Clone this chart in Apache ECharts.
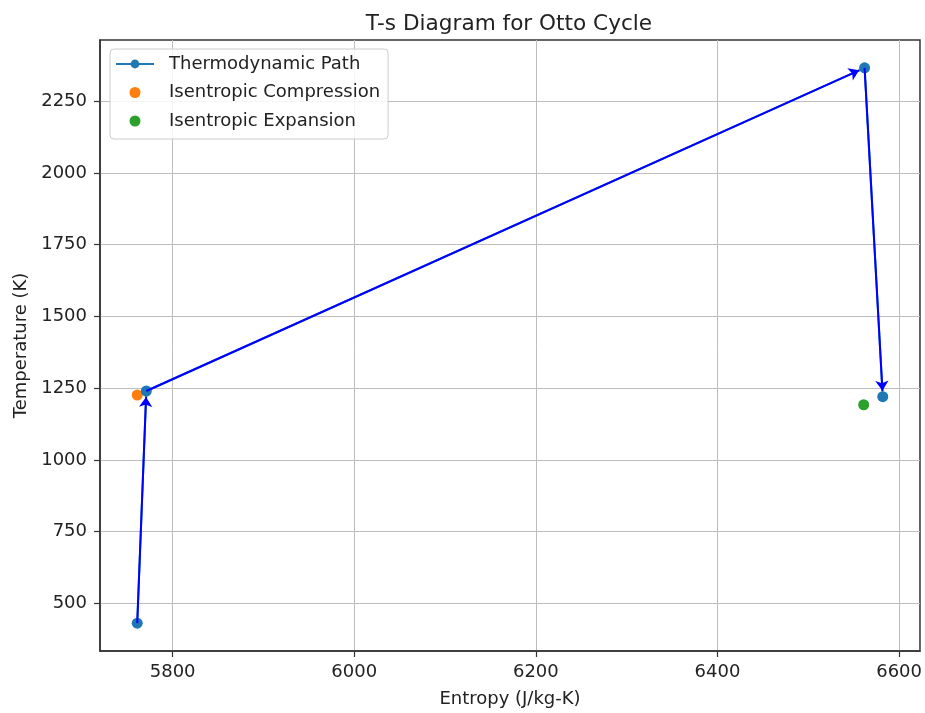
<!DOCTYPE html>
<html>
<head>
<meta charset="utf-8">
<script src="https://cdn.jsdelivr.net/npm/echarts@6/dist/echarts.min.js"></script>
<style>
html,body{margin:0;padding:0;background:#fff;}
#chart{width:925px;height:713px;}
</style>
</head>
<body>
<div id="chart"></div>
<script>
// Thermodynamic path (entropy J/kg-K, temperature K)
var pathS = [5761, 5771, 6562, 6582];
var pathT = [431, 1240, 2366, 1220];
// Isentropic points
var compS = [5761];
var compT = [1226];
var expS = [6561];
var expT = [1192];
// Tick labels
var xTicks = [5800, 6000, 6200, 6400, 6600];
var yTicks = [500, 750, 1000, 1250, 1500, 1750, 2000, 2250];

var FONT = 'DejaVu Sans';
function pairs(xs, ys){ return xs.map(function(x,i){ return [x, ys[i]]; }); }
function plain(v){ return String(v); }

var chart = echarts.init(document.getElementById('chart'), null, {renderer:'canvas'});

var axisCommon = {
  type: 'value',
  axisLine: {show: true, lineStyle: {color: '#333', width: 1.5}},
  axisTick: {show: true, inside: false, length: 6, lineStyle: {color: '#333', width: 1.2}},
  splitLine: {show: true, lineStyle: {color: '#bdbdbd', width: 1}},
  nameLocation: 'middle',
  nameTextStyle: {fontFamily: FONT, fontSize: 18, color: '#222'}
};

var option = {
  animation: false,
  backgroundColor: '#fff',
  title: {
    text: 'T-s Diagram for Otto Cycle',
    left: 504, textAlign: 'center', top: 8,
    textStyle: {fontFamily: FONT, fontSize: 21.6, fontWeight: 'normal', color: '#222'}
  },
  grid: {left: 100, right: 5, top: 40, bottom: 61, show: true, borderColor: '#333', borderWidth: 1.5, backgroundColor: 'transparent'},
  legend: {
    orient: 'vertical', left: 110, top: 49,
    padding: [6, 8, 9, 5],
    itemWidth: 38, itemHeight: 11, itemGap: 10.5,
    backgroundColor: 'rgba(255,255,255,0.85)', borderColor: '#ccc', borderWidth: 1, borderRadius: 4,
    textStyle: {fontFamily: FONT, fontSize: 18, color: '#222', lineHeight: 18, padding: [0, 0, 0, 10]},
    data: ['Thermodynamic Path', 'Isentropic Compression', 'Isentropic Expansion']
  },
  xAxis: Object.assign({}, axisCommon, {
    min: 5720, max: 6623,
    name: 'Entropy (J/kg-K)', nameGap: 39,
    axisTick: Object.assign({}, axisCommon.axisTick, {customValues: xTicks}),
    axisLabel: {customValues: xTicks, formatter: plain, margin: 12, fontFamily: FONT, fontSize: 18, color: '#222'}
  }),
  yAxis: Object.assign({}, axisCommon, {
    min: 334, max: 2463,
    name: 'Temperature (K)', nameGap: 62,
    axisTick: Object.assign({}, axisCommon.axisTick, {customValues: yTicks}),
    axisLabel: {customValues: yTicks, formatter: plain, margin: 13, fontFamily: FONT, fontSize: 18, color: '#222'}
  }),
  series: [
    {
      name: 'Thermodynamic Path', type: 'line', data: pairs(pathS, pathT),
      symbol: 'circle', symbolSize: 11, showAllSymbol: true,
      itemStyle: {color: '#1f77b4', opacity: 1}, lineStyle: {color: '#1f77b4', width: 2}, z: 3
    },
    {
      name: 'Isentropic Compression', type: 'scatter', data: pairs(compS, compT),
      symbol: 'circle', symbolSize: 11, itemStyle: {color: '#ff7f0e', opacity: 1}, z: 2
    },
    {
      name: 'Isentropic Expansion', type: 'scatter', data: pairs(expS, expT),
      symbol: 'circle', symbolSize: 11, itemStyle: {color: '#2ca02c', opacity: 1}, z: 2
    },
    {
      name: 'arrows', type: 'lines', coordinateSystem: 'cartesian2d',
      symbol: ['none', 'arrow'], symbolSize: [0, 10],
      lineStyle: {color: '#0000ff', width: 2, opacity: 1}, z: 4,
      data: []
    }
  ]
};
chart.setOption(option);

// arrows between consecutive path points, shortened at the head so the tip meets the marker edge
var arrowData = [];
for (var i = 0; i < pathS.length - 1; i++) {
  var a = chart.convertToPixel({gridIndex: 0}, [pathS[i], pathT[i]]);
  var b = chart.convertToPixel({gridIndex: 0}, [pathS[i+1], pathT[i+1]]);
  var dx = b[0] - a[0], dy = b[1] - a[1];
  var len = Math.sqrt(dx*dx + dy*dy);
  var shrink = 6;
  var bEnd = [b[0] - dx/len*shrink, b[1] - dy/len*shrink];
  arrowData.push({coords: [
    chart.convertFromPixel({gridIndex: 0}, a),
    chart.convertFromPixel({gridIndex: 0}, bEnd)
  ]});
}
chart.setOption({series: [{}, {}, {}, {data: arrowData}]});
</script>
</body>
</html>
